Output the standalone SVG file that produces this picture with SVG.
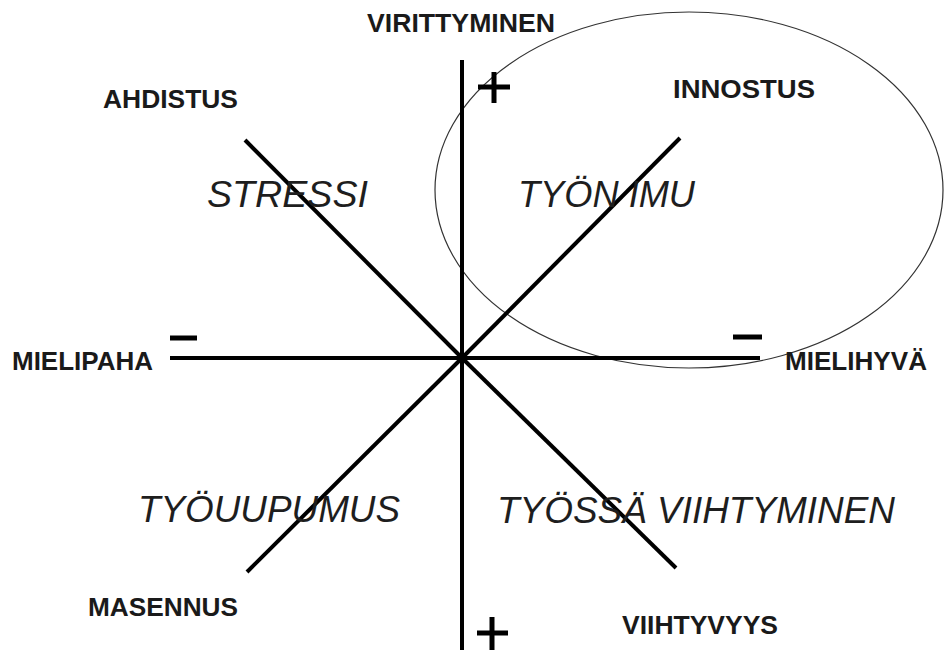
<svg xmlns="http://www.w3.org/2000/svg" width="947" height="650" viewBox="0 0 947 650">
<style>
.lbl{font-family:"Liberation Sans",Arial,sans-serif;font-weight:bold;font-size:25px;fill:#1a1a1a}
.zone{font-family:"Liberation Sans",Arial,sans-serif;font-style:italic;font-size:37px;fill:#1e1e1e}
.axis{stroke:#000;stroke-width:4;fill:none}
.sign{stroke:#000;stroke-width:5;fill:none}
</style>
<rect width="947" height="650" fill="#fff"/>
<g id="ellipse">
<ellipse cx="689" cy="190" rx="254" ry="178" fill="none" stroke="#333" stroke-width="1.2"/>
</g>
<g id="connectors">
<line class="axis" x1="462" y1="60" x2="462" y2="650"/>
<line class="axis" x1="170" y1="358" x2="760" y2="358"/>
<line class="axis" x1="462" y1="358" x2="245" y2="140"/>
<line class="axis" x1="462" y1="358" x2="680" y2="138"/>
<line class="axis" x1="462" y1="358" x2="247" y2="572"/>
<line class="axis" x1="462" y1="358" x2="676" y2="568"/>
</g>
<g id="signs">
<line class="sign" x1="170" y1="338" x2="197" y2="338"/>
<line class="sign" x1="733" y1="337" x2="762" y2="337"/>
<path class="sign" d="M478 87H510M494 72V103"/>
<path class="sign" d="M477 633H508M492 617V650"/>
</g>
<g id="virittyminen"><text class="lbl" x="367" y="32" textLength="188" lengthAdjust="spacingAndGlyphs">VIRITTYMINEN</text></g>
<g id="ahdistus"><text class="lbl" x="103" y="108" textLength="135" lengthAdjust="spacingAndGlyphs">AHDISTUS</text></g>
<g id="innostus"><text class="lbl" x="673" y="98" textLength="142" lengthAdjust="spacingAndGlyphs">INNOSTUS</text></g>
<g id="mielipaha"><text class="lbl" x="12" y="370" textLength="141" lengthAdjust="spacingAndGlyphs">MIELIPAHA</text></g>
<g id="mielihyva"><text class="lbl" x="785" y="370" textLength="142" lengthAdjust="spacingAndGlyphs">MIELIHYVÄ</text></g>
<g id="masennus"><text class="lbl" x="88" y="616" textLength="150" lengthAdjust="spacingAndGlyphs">MASENNUS</text></g>
<g id="viihtyvyys"><text class="lbl" x="622" y="634" textLength="156" lengthAdjust="spacingAndGlyphs">VIIHTYVYYS</text></g>
<g id="stressi"><text class="zone" x="207" y="207" textLength="161" lengthAdjust="spacingAndGlyphs">STRESSI</text></g>
<g id="tyon-imu"><text class="zone" x="518" y="207" textLength="177" lengthAdjust="spacingAndGlyphs">TYÖN IMU</text></g>
<g id="tyouupumus"><text class="zone" x="138" y="522" textLength="262" lengthAdjust="spacingAndGlyphs">TYÖUUPUMUS</text></g>
<g id="tyossa-viihtyminen"><text class="zone" x="497" y="523" textLength="398" lengthAdjust="spacingAndGlyphs">TYÖSSÄ VIIHTYMINEN</text></g>
</svg>
